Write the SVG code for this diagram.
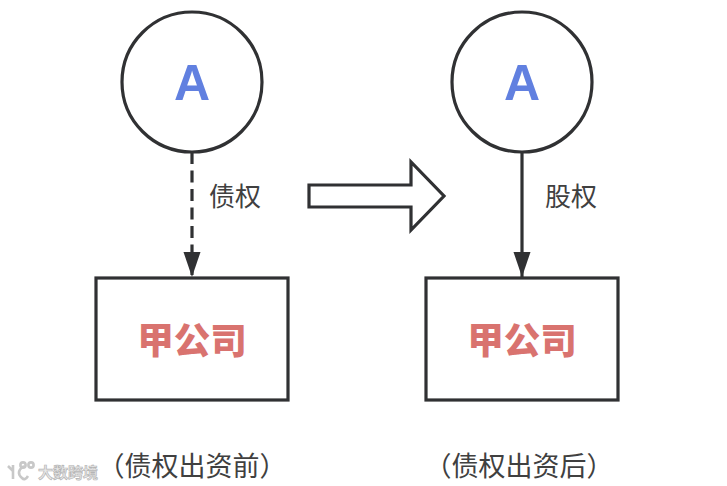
<svg xmlns="http://www.w3.org/2000/svg" width="727" height="486" viewBox="0 0 727 486">
<style>
.n{fill:#fff;stroke:#303133;stroke-width:3.2}
.a{font:bold 50px "Liberation Sans",sans-serif;fill:#6180e0;text-anchor:middle}
.c{font:900 36.5px "Noto Sans CJK SC",sans-serif;fill:#d9736f;text-anchor:middle}
.l{font:26px "Noto Sans CJK SC",sans-serif;fill:#404040;text-anchor:middle}
.b{font:27px "Noto Sans CJK SC",sans-serif;fill:#404040;text-anchor:middle}
.e{fill:none;stroke:#303133;stroke-width:3.2}
.w{font:bold 15px "Noto Sans CJK SC",sans-serif;fill:#e8e8e8;stroke:#b5b5b5;stroke-width:.7}
.wl{fill:none;stroke:#c8c8c8;stroke-width:2.6}
</style>
<defs>
<marker id="m2" markerUnits="userSpaceOnUse" markerWidth="26" markerHeight="18" refX="25" refY="9" orient="auto"><path d="M0 .5L25 9L0 17.5Z" fill="#303133"/></marker></defs>
<rect width="727" height="486" fill="#fff"/>
<g id="connectors">
<path class="e" d="M192 152V277" stroke-dasharray="12 6.5" marker-end="url(#m2)"/>
<path class="e" d="M522 152V277" marker-end="url(#m2)"/>
</g>
<g id="a1"><circle class="n" cx="192" cy="82" r="70"/><text class="a" x="192" y="100">A</text></g>
<g id="a2"><circle class="n" cx="522" cy="82" r="70"/><text class="a" x="522" y="100">A</text></g>
<g id="b1"><rect class="n" x="96" y="278" width="192" height="122"/><text class="c" x="192" y="354">甲公司</text></g>
<g id="b2"><rect class="n" x="426" y="278" width="192" height="122"/><text class="c" x="522" y="354">甲公司</text></g>
<g id="arrow"><path class="n" d="M309 185H411V162L444 196L411 230V207H309Z"/></g>
<g id="labels">
<text class="l" x="235" y="206">债权</text>
<text class="l" x="571" y="206">股权</text>
<text class="b" x="192" y="476">（债权出资前）</text>
<text class="b" x="519" y="476">（债权出资后）</text>
</g>
<g id="watermark">
<path class="wl" d="M8 466L13 471M13 465V479M24 466Q15 472 22 478Q25 481 28 476"/>
<circle class="wl" cx="23" cy="465" r="2.6"/><circle class="wl" cx="31" cy="465" r="2.6"/>
<text class="w" x="38" y="478">大数跨境</text>
</g>
</svg>
